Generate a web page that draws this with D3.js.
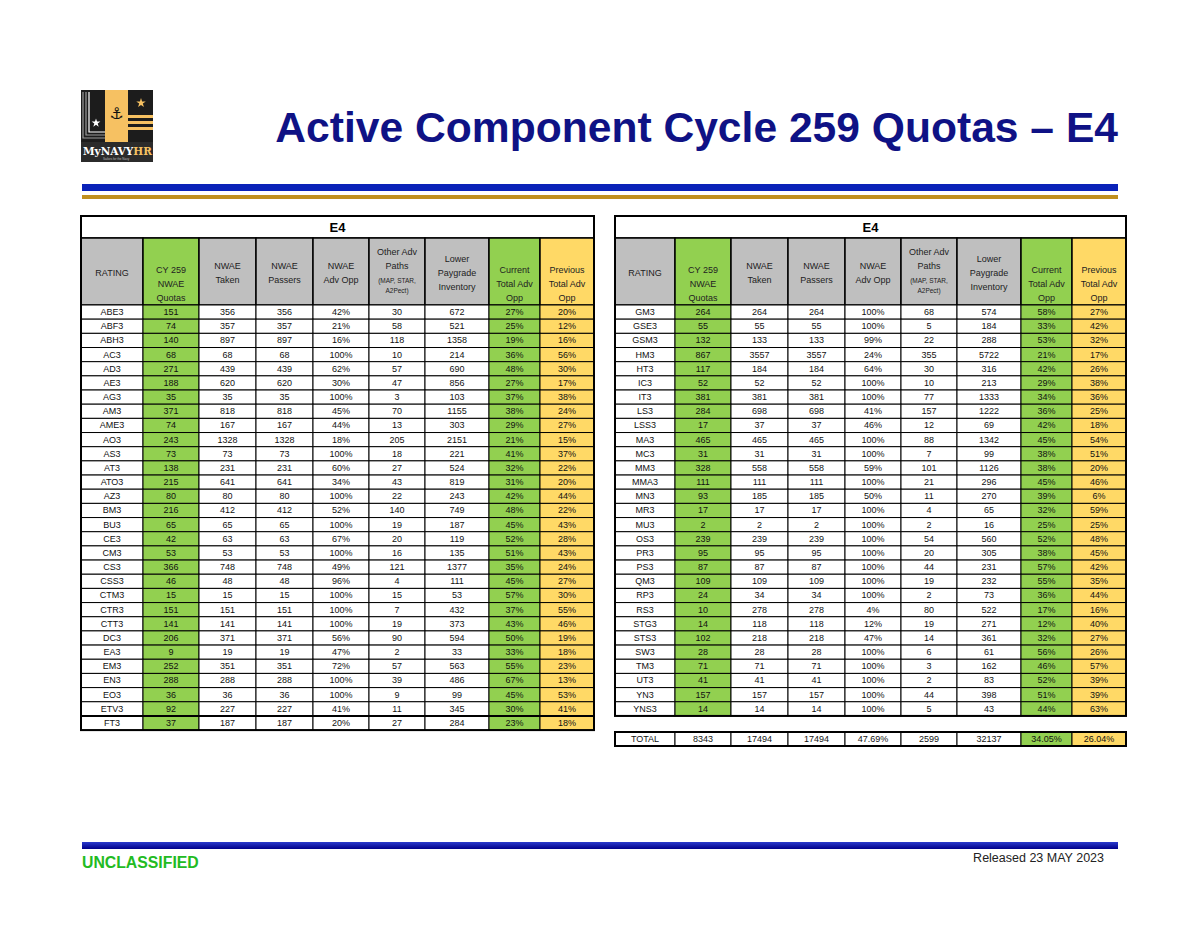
<!DOCTYPE html>
<html>
<head>
<meta charset="utf-8">
<script src="https://cdn.jsdelivr.net/npm/d3@7"></script>
<style>
  body { margin: 0; background: #fff; }
  svg { display: block; }
  .cell text { font-family: "Liberation Sans Narrow", "Liberation Sans", sans-serif; }
</style>
</head>
<body>
<svg id="page" width="1200" height="927"></svg>
<script>
// ---- data: left table ----
var leftRatings = ["ABE3","ABF3","ABH3","AC3","AD3","AE3","AG3","AM3","AME3","AO3","AS3","AT3","ATO3","AZ3","BM3",
    "BU3","CE3","CM3","CS3","CSS3","CTM3","CTR3","CTT3","DC3","EA3","EM3","EN3","EO3","ETV3","FT3"];
var leftQuotas    = [151,74,140,68,271,188,35,371,74,243,73,138,215,80,216,65,42,53,366,46,15,151,141,206,9,252,288,36,92,37];
var leftTaken     = [356,357,897,68,439,620,35,818,167,1328,73,231,641,80,412,65,63,53,748,48,15,151,141,371,19,351,288,36,227,187];
var leftPassers   = [356,357,897,68,439,620,35,818,167,1328,73,231,641,80,412,65,63,53,748,48,15,151,141,371,19,351,288,36,227,187];
var leftAdvOpp    = [42,21,16,100,62,30,100,45,44,18,100,60,34,100,52,100,67,100,49,96,100,100,100,56,47,72,100,100,41,20];
var leftOther     = [30,58,118,10,57,47,3,70,13,205,18,27,43,22,140,19,20,16,121,4,15,7,19,90,2,57,39,9,11,27];
var leftInventory = [672,521,1358,214,690,856,103,1155,303,2151,221,524,819,243,749,187,119,135,1377,111,53,432,373,594,33,563,486,99,345,284];
var leftCurrent   = [27,25,19,36,48,27,37,38,29,21,41,32,31,42,48,45,52,51,35,45,57,37,43,50,33,55,67,45,30,23];
var leftPrevious  = [20,12,16,56,30,17,38,24,27,15,37,22,20,44,22,43,28,43,24,27,30,55,46,19,18,23,13,53,41,18];

// ---- data: right table ----
var rightRatings = ["GM3","GSE3","GSM3","HM3","HT3","IC3","IT3","LS3","LSS3","MA3","MC3","MM3","MMA3","MN3","MR3",
    "MU3","OS3","PR3","PS3","QM3","RP3","RS3","STG3","STS3","SW3","TM3","UT3","YN3","YNS3"];
var rightQuotas    = [264,55,132,867,117,52,381,284,17,465,31,328,111,93,17,2,239,95,87,109,24,10,14,102,28,71,41,157,14];
var rightTaken     = [264,55,133,3557,184,52,381,698,37,465,31,558,111,185,17,2,239,95,87,109,34,278,118,218,28,71,41,157,14];
var rightPassers   = [264,55,133,3557,184,52,381,698,37,465,31,558,111,185,17,2,239,95,87,109,34,278,118,218,28,71,41,157,14];
var rightAdvOpp    = [100,100,99,24,64,100,100,41,46,100,100,59,100,50,100,100,100,100,100,100,100,4,12,47,100,100,100,100,100];
var rightOther     = [68,5,22,355,30,10,77,157,12,88,7,101,21,11,4,2,54,20,44,19,2,80,19,14,6,3,2,44,5];
var rightInventory = [574,184,288,5722,316,213,1333,1222,69,1342,99,1126,296,270,65,16,560,305,231,232,73,522,271,361,61,162,83,398,43];
var rightCurrent   = [58,33,53,21,42,29,34,36,42,45,38,38,45,39,32,25,52,38,57,55,36,17,12,32,56,46,52,51,44];
var rightPrevious  = [27,42,32,17,26,38,36,25,18,54,51,20,46,6,59,25,48,45,42,35,44,16,40,27,26,57,39,39,63];

// ---- totals ----
var totalRow = ["TOTAL", 8343, 17494, 17494, 47.69, 2599, 32137, 34.05, 26.04];

// ---- header texts ----
var headerLines = [
    ["RATING"],
    ["CY 259","NWAE","Quotas"],
    ["NWAE","Taken"],
    ["NWAE","Passers"],
    ["NWAE","Adv Opp"],
    ["Other Adv","Paths","(MAP, STAR,","A2Pect)"],
    ["Lower","Paygrade","Inventory"],
    ["Current","Total Adv","Opp"],
    ["Previous","Total Adv","Opp"]
];

// layout
var leftWidths  = [62,56,57,57,56,56,64,51,54];
var rightWidths = [60,56,57,57,56,56,64,51,54];
var green = "#92D050", yellow = "#FFD966", gray = "#BFBFBF";
var rowH = 14.17, dataTop = 305;

var svg = d3.select("#page");

function colFill(i) {
    if (i === 1 || i === 7) return green;
    if (i === 8) return yellow;
    return "#fff";
}
function headFill(i) {
    if (i === 1 || i === 7) return green;
    if (i === 8) return yellow;
    return gray;
}
var pct = function (v) { return v + "%"; };
var fmtCell = [String, String, String, String, pct, String, String, pct, pct];

function buildRows(ratings, cols) {
    return ratings.map(function (r, i) {
        return [r].concat(cols.map(function (c) { return c[i]; }));
    });
}

function drawTable(x0, widths, ratings, rows) {
    var offs = [0].concat(Array.from(d3.cumsum(widths)));
    var W = offs[offs.length - 1];
    var x = d3.scaleOrdinal().domain(d3.range(widths.length)).range(offs.map(function (o) { return x0 + o; }));
    var y = d3.scaleBand().domain(ratings).range([dataTop, dataTop + ratings.length * rowH]);
    var g = svg.append("g");

    // E4 row
    g.append("rect").attr("x", x0).attr("y", 216).attr("width", W).attr("height", 22)
        .attr("fill", "#fff").attr("stroke", "#000").attr("stroke-width", 1.5);
    g.append("text").attr("x", x0 + W / 2).attr("y", 232).attr("text-anchor", "middle")
        .style("font", "bold 13px 'Liberation Sans Narrow', 'Liberation Sans', sans-serif").text("E4");

    // header row
    var hg = g.selectAll("g.head").data(headerLines).join("g").attr("class", "head cell");
    hg.append("rect")
        .attr("x", function (d, i) { return x(i); }).attr("y", 238)
        .attr("width", function (d, i) { return widths[i]; }).attr("height", 67)
        .attr("fill", function (d, i) { return headFill(i); })
        .attr("stroke", "#000").attr("stroke-width", 1.5);
    hg.each(function (lines, i) {
        var cx = x(i) + widths[i] / 2;
        var shift = (i === 1 || i === 7 || i === 8) ? 11 : 0;
        var y0 = 276 - (lines.length - 1) * 14 / 2 + shift;
        d3.select(this).selectAll("text").data(lines).join("text")
            .attr("x", cx)
            .attr("y", function (t, k) { return k < 3 ? y0 + k * 14 : y0 + 2 * 14 + 10; })
            .attr("text-anchor", "middle")
            .attr("fill", "#222")
            .style("font-size", function (t, k) { return (i === 5 && k >= 2) ? "6.5px" : "9px"; })
            .text(function (t) { return t; });
    });

    // data rows
    var rg = g.selectAll("g.row").data(rows).join("g").attr("class", "row cell")
        .attr("transform", function (d) { return "translate(0," + y(d[0]) + ")"; });
    rg.selectAll("rect").data(function (d) { return d; }).join("rect")
        .attr("x", function (d, i) { return x(i); }).attr("y", 0)
        .attr("width", function (d, i) { return widths[i]; }).attr("height", y.bandwidth())
        .attr("fill", function (d, i) { return colFill(i); })
        .attr("stroke", "#000").attr("stroke-width", 1);
    rg.selectAll("text").data(function (d) { return d; }).join("text")
        .attr("x", function (d, i) { return x(i) + widths[i] / 2; })
        .attr("y", y.bandwidth() / 2 + 3)
        .attr("text-anchor", "middle")
        .attr("fill", "#111")
        .style("font-size", "9px")
        .text(function (d, i) { return fmtCell[i](d); });

    // outer border
    g.append("rect").attr("x", x0).attr("y", 216).attr("width", W).attr("height", y.range()[1] - 216)
        .attr("fill", "none").attr("stroke", "#000").attr("stroke-width", 2);
    return {x: x, W: W, y: y};
}

var left = drawTable(81, leftWidths, leftRatings,
    buildRows(leftRatings, [leftQuotas, leftTaken, leftPassers, leftAdvOpp, leftOther, leftInventory, leftCurrent, leftPrevious]));
// FT3 sits under a heavier rule
svg.append("line").attr("x1", 81).attr("x2", 81 + left.W)
    .attr("y1", left.y("FT3")).attr("y2", left.y("FT3")).attr("stroke", "#000").attr("stroke-width", 2);

var right = drawTable(615, rightWidths, rightRatings,
    buildRows(rightRatings, [rightQuotas, rightTaken, rightPassers, rightAdvOpp, rightOther, rightInventory, rightCurrent, rightPrevious]));

// total row
var totFmt = [String, String, String, String, function (v) { return d3.format(".2f")(v) + "%"; }, String, String,
    function (v) { return d3.format(".2f")(v) + "%"; }, function (v) { return d3.format(".2f")(v) + "%"; }];
var tg = svg.append("g").attr("class", "cell").attr("transform", "translate(0,732)");
tg.selectAll("rect").data(totalRow).join("rect")
    .attr("x", function (d, i) { return right.x(i); }).attr("y", 0)
    .attr("width", function (d, i) { return rightWidths[i]; }).attr("height", 14)
    .attr("fill", function (d, i) { return i === 7 ? green : i === 8 ? yellow : "#fff"; })
    .attr("stroke", "#000").attr("stroke-width", 1);
tg.selectAll("text").data(totalRow).join("text")
    .attr("x", function (d, i) { return right.x(i) + rightWidths[i] / 2; })
    .attr("y", 10).attr("text-anchor", "middle").attr("fill", "#111").style("font-size", "9px")
    .text(function (d, i) { return totFmt[i](d); });
tg.append("rect").attr("x", 615).attr("y", 0).attr("width", right.W).attr("height", 14)
    .attr("fill", "none").attr("stroke", "#000").attr("stroke-width", 2);

// ---- title & rules ----
svg.append("text").attr("x", 1118).attr("y", 142).attr("text-anchor", "end")
    .attr("fill", "#0f1285")
    .style("font", "bold 42.6px 'Liberation Sans', Arial, sans-serif")
    .text("Active Component Cycle 259 Quotas \u2013 E4");
svg.append("rect").attr("x", 82).attr("y", 184).attr("width", 1036).attr("height", 7).attr("fill", "#0a22b8");
svg.append("rect").attr("x", 82).attr("y", 195).attr("width", 1036).attr("height", 4).attr("fill", "#c0901e");

// footer
var fgrad = svg.append("defs").append("linearGradient").attr("id", "fbar").attr("x1", 0).attr("x2", 0).attr("y1", 0).attr("y2", 1);
fgrad.append("stop").attr("offset", "0%").attr("stop-color", "#2a3acc");
fgrad.append("stop").attr("offset", "100%").attr("stop-color", "#00008a");
svg.append("rect").attr("x", 82).attr("y", 842).attr("width", 1036).attr("height", 7).attr("fill", "url(#fbar)");
svg.append("text").attr("x", 82).attr("y", 868).attr("fill", "#22bb22")
    .style("font", "bold 15.8px 'Liberation Sans', Arial, sans-serif").text("UNCLASSIFIED");
svg.append("text").attr("x", 1104).attr("y", 862).attr("text-anchor", "end").attr("fill", "#222")
    .style("font", "12.5px 'Liberation Sans Narrow', 'Liberation Sans', Arial, sans-serif").text("Released 23 MAY 2023");

// ---- logo ----
var logo = svg.append("g").attr("transform", "translate(81,90)");
logo.append("rect").attr("width", 72).attr("height", 72).attr("fill", "#1c1c1c");
[2, 5, 8].forEach(function (o, k) {
    logo.append("path").attr("d", "M" + o + ",2 V" + (50 - o) + " H24")
        .attr("fill", "none").attr("stroke", k === 2 ? "#fff" : "#9a9a9a").attr("stroke-width", 1.2);
});
logo.append("rect").attr("x", 24).attr("y", 0).attr("width", 23).attr("height", 52).attr("fill", "#f6c162");
[25, 31, 37].forEach(function (yy) {
    logo.append("rect").attr("x", 47).attr("y", yy).attr("width", 25).attr("height", 3).attr("fill", "#f6c162");
});
logo.append("path").attr("d", d3.symbol(d3.symbolStar, 28)()).attr("transform", "translate(60,13)").attr("fill", "#f6c162");
logo.append("path").attr("d", d3.symbol(d3.symbolStar, 24)()).attr("transform", "translate(15,33)").attr("fill", "#fff");
logo.append("text").attr("x", 35.5).attr("y", 29).attr("text-anchor", "middle")
    .style("font", "16px 'DejaVu Sans', sans-serif").attr("fill", "#111").text("\u2693");
logo.append("rect").attr("y", 52).attr("width", 72).attr("height", 20).attr("fill", "#2b2b2b");
var lt = logo.append("text").attr("x", 2).attr("y", 65).style("font", "bold 10.5px 'DejaVu Serif', serif");
lt.append("tspan").attr("fill", "#fff").text("MyNAVY");
lt.append("tspan").attr("fill", "#f6c162").text("HR");
logo.append("text").attr("x", 22).attr("y", 70).style("font", "3px sans-serif").attr("fill", "#bbb").text("Sailors for the Navy");
</script>
</body>
</html>
